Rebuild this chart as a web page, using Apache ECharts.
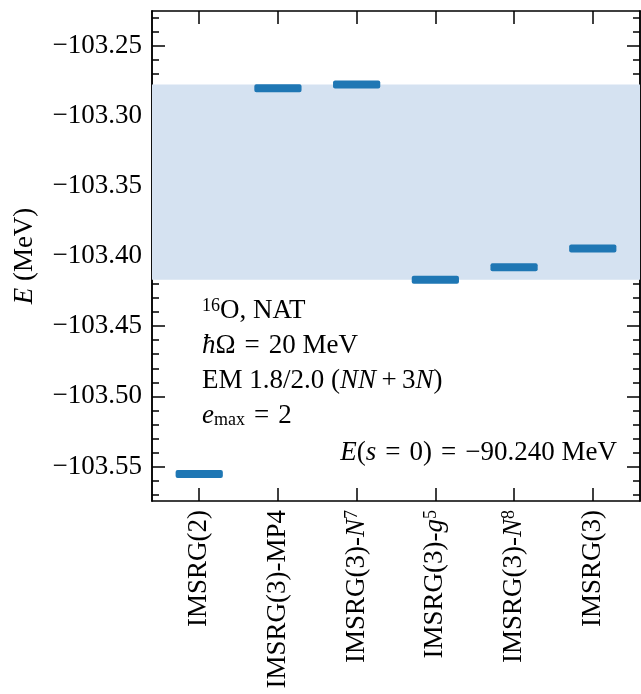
<!DOCTYPE html>
<html><head><meta charset="utf-8">
<script src="https://cdn.jsdelivr.net/npm/echarts@6/dist/echarts.min.js"></script>
<style>html,body{margin:0;padding:0;background:#fff}#c{width:641px;height:694px}</style>
</head><body><div id="c"></div>
<script>
// ---- data ----
const methods = ['IMSRG(2)', 'IMSRG(3)-MP4', 'IMSRG(3)-N7', 'IMSRG(3)-g5', 'IMSRG(3)-N8', 'IMSRG(3)'];
const methodLabels = ['IMSRG(2)', 'IMSRG(3)-MP4', 'IMSRG(3)-{it|N}{sup|7}', 'IMSRG(3)-{it|g}{sup|5}', 'IMSRG(3)-{it|N}{sup|8}', 'IMSRG(3)'];
const energies = [-103.5554, -103.2805, -103.2777, -103.4169, -103.4081, -103.3946];
const xTicks = [0, 1, 2, 3, 4, 5];
const yTicks = [-103.55, -103.50, -103.45, -103.40, -103.35, -103.30, -103.25];
const yMinorTicks = [-103.57, -103.56, -103.54, -103.53, -103.52, -103.51, -103.49, -103.48, -103.47, -103.46,
  -103.44, -103.43, -103.42, -103.41, -103.39, -103.38, -103.37, -103.36, -103.34, -103.33, -103.32, -103.31,
  -103.29, -103.28, -103.27, -103.26, -103.24, -103.23];
const yRange = [-103.5746, -103.2254];
const xRange = [-0.6, 5.6];
const SP = '\u2004';
const annotationLines = ['{sup|16}O, NAT', '{it|ħ}Ω' + SP + '=' + SP + '20 MeV', 'EM 1.8/2.0 ({it|NN}\u2009+\u20093{it|N})', '{it|e}{sub|max}' + SP + '=' + SP + '2'];
const refLine = '{it|E}({it|s}' + SP + '=' + SP + '0)' + SP + '=' + SP + '−90.240 MeV';

// band from IMSRG(3) variants
const variants = energies.slice(1);
const bandTop = Math.max(...variants);
const bandBottom = Math.min(...variants);

const FONT = 'Liberation Serif';
const FS = 27;
const richBase = {
  it: {fontStyle: 'italic', fontFamily: FONT, fontSize: FS, color: '#000'},
  sup: {fontFamily: FONT, fontSize: 18, verticalAlign: 'top', color: '#000'},
  sub: {fontFamily: FONT, fontSize: 18, verticalAlign: 'bottom', color: '#000', padding: [8, 0, 0, 0]}
};

const axLine = {show: true, onZero: false, lineStyle: {color: '#000', width: 1.5}};
function xAxisDef(pos, showLabel) {
  return {
    type: 'value', position: pos, min: xRange[0], max: xRange[1],
    axisLine: axLine, splitLine: {show: false},
    axisTick: {show: true, inside: true, length: 13, customValues: xTicks, lineStyle: {color: '#000', width: 1.5}},
    axisLabel: {show: showLabel, customValues: xTicks, rotate: 90, margin: 9,
      fontFamily: FONT, fontSize: FS, color: '#000',
      formatter: v => methodLabels[Math.round(v)], rich: richBase}
  };
}
function yAxisDef(pos, ticks, len, showLabel, extra) {
  return Object.assign({
    type: 'value', position: pos, min: yRange[0], max: yRange[1],
    axisLine: axLine, splitLine: {show: false},
    axisTick: {show: true, inside: true, length: len, customValues: ticks, lineStyle: {color: '#000', width: 1.5}},
    axisLabel: {show: showLabel, customValues: ticks, margin: 10, fontFamily: FONT, fontSize: FS, color: '#000',
      formatter: v => '−' + Math.abs(v).toFixed(2)}
  }, extra || {});
}

const chart = echarts.init(document.getElementById('c'), null, {renderer: 'canvas'});
chart.setOption({
  animation: false,
  backgroundColor: '#fff',
  grid: {left: 152, right: 1, top: 11, bottom: 193, containLabel: false},
  xAxis: [xAxisDef('bottom', true), xAxisDef('top', false)],
  yAxis: [
    yAxisDef('left', yTicks, 13, true, {
      name: '{it|E} (MeV)', nameLocation: 'middle', nameGap: 114,
      nameTextStyle: {fontFamily: FONT, fontSize: FS, color: '#000', rich: richBase}
    }),
    yAxisDef('left', yMinorTicks, 7, false),
    yAxisDef('right', yTicks, 13, false),
    yAxisDef('right', yMinorTicks, 7, false)
  ],
  series: [{
    type: 'custom',
    xAxisIndex: 0, yAxisIndex: 0,
    z: 3,
    data: methods.map((m, i) => [i, energies[i]]),
    renderItem: function (params, api) {
      const i = api.value(0), v = api.value(1);
      const p0 = api.coord([i - 0.3, v]);
      const p1 = api.coord([i + 0.3, v]);
      const h = 8;
      return {type: 'rect', shape: {x: p0[0], y: p0[1] - h / 2, width: p1[0] - p0[0], height: h, r: 2},
        style: {fill: '#1f77b4'}};
    },
    markArea: {
      silent: true,
      itemStyle: {color: 'rgb(213,226,241)'},
      data: [[{yAxis: bandTop}, {yAxis: bandBottom}]]
    }
  }],
  graphic: annotationLines.map((t, k) => ({
    type: 'text', x: 202, y: 311 + 35 * k, z: 10,
    style: {text: t, fontFamily: FONT, fontSize: FS, fill: '#000', verticalAlign: 'middle', align: 'left', rich: richBase}
  })).concat([{
    type: 'text', x: 617, y: 453, z: 10,
    style: {text: refLine, fontFamily: FONT, fontSize: FS, fill: '#000', verticalAlign: 'middle', align: 'right', rich: richBase}
  }])
});
</script></body></html>
